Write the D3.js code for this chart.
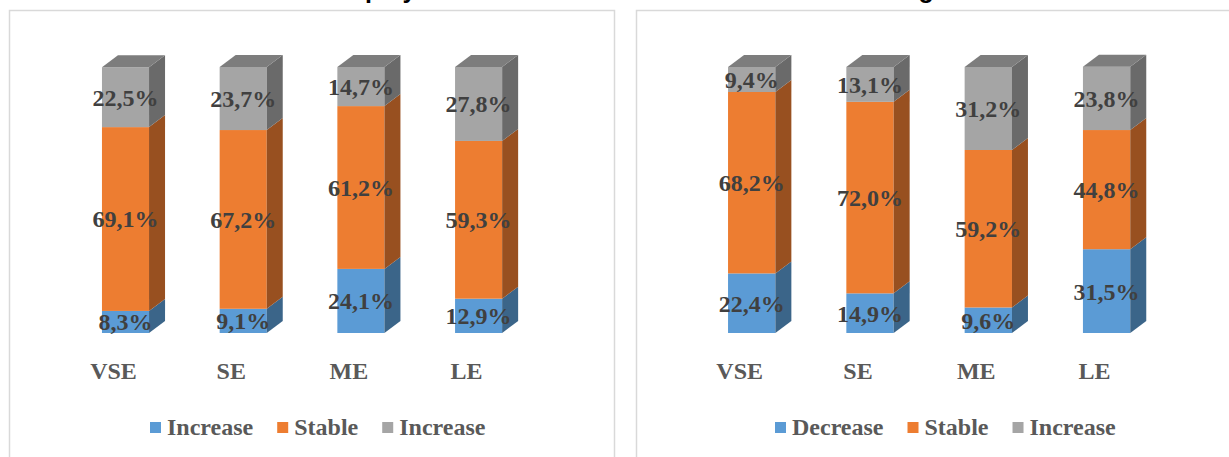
<!DOCTYPE html>
<html>
<head>
<meta charset="utf-8">
<script src="https://cdn.jsdelivr.net/npm/d3@7"></script>
<style>
  html, body { margin: 0; padding: 0; background: #ffffff; }
  svg { display: block; }
</style>
</head>
<body>
<svg id="chart" width="1229" height="457"></svg>
<script>
// Enterprise size classes
const categories = ["VSE", "SE", "ME", "LE"];

// Left panel: employment change shares (%)
const empLow    = [8.3, 9.1, 24.1, 12.9];
const empStable = [69.1, 67.2, 61.2, 59.3];
const empHigh   = [22.5, 23.7, 14.7, 27.8];
const empLegend = ["Increase", "Stable", "Increase"];

// Right panel: wage change shares (%)
const wageLow    = [22.4, 14.9, 9.6, 31.5];
const wageStable = [68.2, 72.0, 59.2, 44.8];
const wageHigh   = [9.4, 13.1, 31.2, 23.8];
const wageLegend = ["Decrease", "Stable", "Increase"];

const frontColors = ["#5b9bd5", "#ed7d31", "#a5a5a5"];
const sideColors  = ["#3b6589", "#985020", "#6a6a6a"];
const topColor    = "#7d7d7d";

const svg = d3.select("#chart");
const serif = "'Liberation Serif', 'Times New Roman', serif";

// depth of the 3D extrusion
const DX = 16, DY = 12;

const y = d3.scaleLinear().domain([0, 100]).range([333, 67]);

function panel(cfg) {
  const g = svg.append("g");

  // chart frame
  g.append("rect")
    .attr("x", cfg.frame[0]).attr("y", 10.5)
    .attr("width", cfg.frame[1]).attr("height", 480)
    .attr("fill", "none").attr("stroke", "#d9d9d9").attr("stroke-width", 1.5);

  // title (sits mostly above the visible area)
  g.append("text")
    .attr("x", cfg.titleX).attr("y", -2)
    .attr("font-family", "'Liberation Sans', Arial, sans-serif")
    .attr("font-weight", "bold").attr("font-size", 25)
    .attr("fill", "#000").text(cfg.title);

  const x = d3.scaleBand().domain(categories)
    .range(cfg.range).paddingInner(0.6).paddingOuter(0.8);
  const bw = x.bandwidth();

  const stackData = categories.map((c, i) => ({
    cat: c, low: cfg.series[0][i], stable: cfg.series[1][i], high: cfg.series[2][i]
  }));
  const stacked = d3.stack().keys(["low", "stable", "high"])(stackData);

  // bars: front + side faces, segment by segment from bottom up
  stacked.forEach((layer, k) => {
    layer.forEach(d => {
      const x0 = x(d.data.cat), x1 = x0 + bw;
      const yb = y(d[0]), yt = y(d[1]);
      g.append("rect")
        .attr("x", x0).attr("y", yt).attr("width", bw).attr("height", yb - yt)
        .attr("fill", frontColors[k]);
      g.append("path")
        .attr("d", `M${x1},${yb}L${x1 + DX},${yb - DY}L${x1 + DX},${yt - DY}L${x1},${yt}Z`)
        .attr("fill", sideColors[k]);
    });
  });

  // top faces
  const top = stacked[stacked.length - 1];
  top.forEach(d => {
    const x0 = x(d.data.cat), x1 = x0 + bw, yt = y(d[1]);
    g.append("path")
      .attr("d", `M${x0},${yt}L${x0 + DX},${yt - DY}L${x1 + DX},${yt - DY}L${x1},${yt}Z`)
      .attr("fill", topColor);
  });

  // value labels
  stacked.forEach(layer => {
    layer.forEach(d => {
      const v = d[1] - d[0];
      g.append("text")
        .attr("x", x(d.data.cat) + bw / 2)
        .attr("y", (y(d[0]) + y(d[1])) / 2)
        .attr("dy", "0.35em")
        .attr("text-anchor", "middle")
        .attr("font-family", serif).attr("font-weight", "bold").attr("font-size", 24)
        .attr("fill", "#404040")
        .text(v.toFixed(1).replace(".", ",") + "%");
    });
  });

  // category axis labels
  const axis = d3.axisBottom(x).tickSize(0).tickPadding(0);
  const ax = g.append("g").attr("transform", "translate(-12,379)").call(axis);
  ax.select(".domain").remove();
  ax.selectAll("text")
    .attr("dy", null).attr("y", 0)
    .attr("font-family", serif).attr("font-weight", "bold").attr("font-size", 24)
    .attr("fill", "#595959");

  // legend
  let lx = cfg.legendX;
  cfg.legend.forEach((name, k) => {
    g.append("rect")
      .attr("x", lx).attr("y", 422).attr("width", 11).attr("height", 11)
      .attr("fill", frontColors[k]);
    const t = g.append("text")
      .attr("x", lx + 17).attr("y", 435)
      .attr("font-family", serif).attr("font-weight", "bold").attr("font-size", 24)
      .attr("fill", "#595959").text(name);
    lx += 17 + t.node().getComputedTextLength() + 24;
  });
}

panel({
  frame: [9.5, 605], title: "Employment", titleX: 326,
  range: [7.8, 596.3],
  series: [empLow, empStable, empHigh], legend: empLegend, legendX: 150
});

panel({
  frame: [636.5, 620], title: "Wages", titleX: 882,
  range: [633.4, 1224.9],
  series: [wageLow, wageStable, wageHigh], legend: wageLegend, legendX: 775
});
</script>
</body>
</html>
